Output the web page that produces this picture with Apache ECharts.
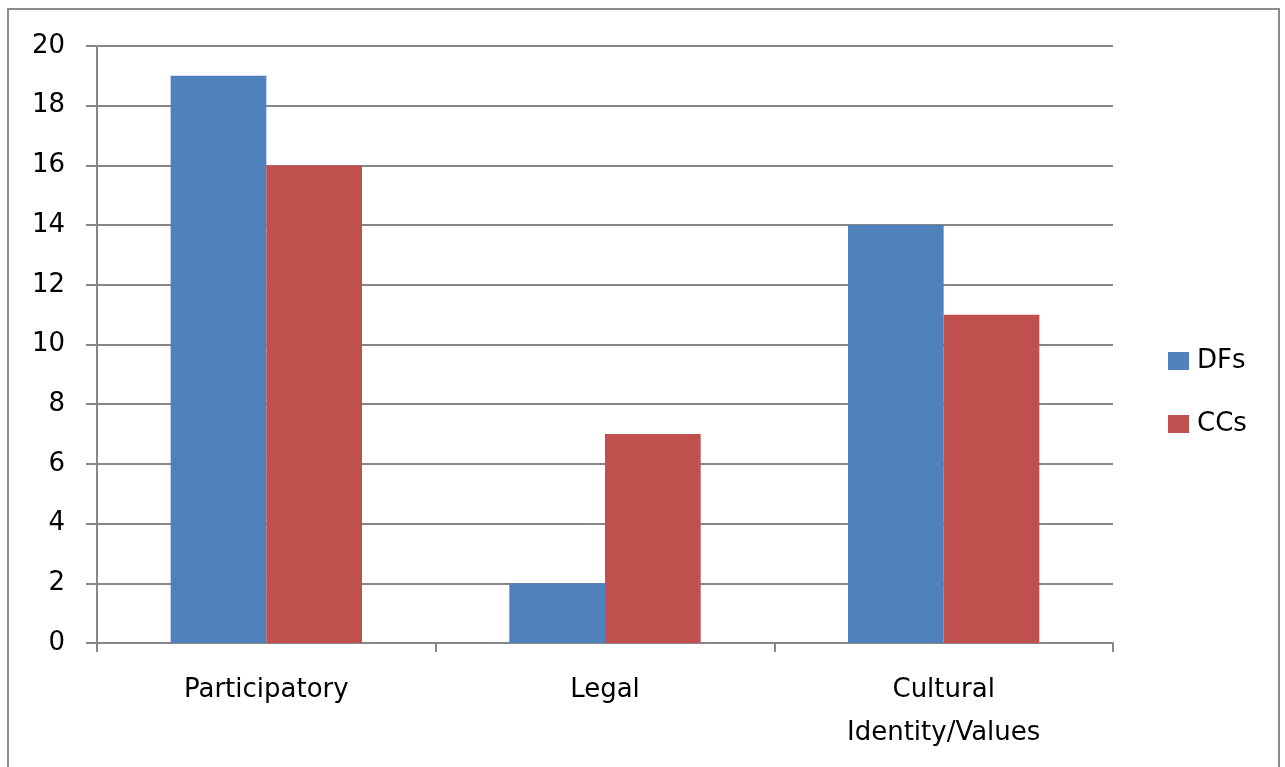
<!DOCTYPE html>
<html>
<head>
<meta charset="utf-8">
<script src="https://cdn.jsdelivr.net/npm/echarts@6/dist/echarts.min.js"></script>
<style>
  html, body { margin: 0; padding: 0; background: #fff; }
  #chart { width: 1285px; height: 767px; }
</style>
</head>
<body>
<div id="chart"></div>
<script>
const categories = ["Participatory", "Legal", "Cultural\nIdentity/Values"];
const dfsValues = [19, 2, 14];
const ccsValues = [16, 7, 11];
const seriesNames = ["DFs", "CCs"];

const AXIS_GRAY = "#868686";
const FONT = '"DejaVu Sans", Verdana, sans-serif';
const FONT_SIZE = 26;

const chart = echarts.init(document.getElementById("chart"), null, { renderer: "canvas" });

chart.setOption({
  animation: false,
  textStyle: { fontFamily: FONT, color: "#000" },
  color: ["#4F81BD", "#C0504D"],
  graphic: [
    {
      type: "rect",
      shape: { x: 8, y: 9, width: 1271, height: 775 },
      style: { fill: "none", stroke: "#8c8c8c", lineWidth: 2 },
      silent: true,
    },
  ],
  grid: { left: 97, right: 172, top: 46, bottom: 124, containLabel: false },
  legend: {
    orient: "vertical",
    left: 1163,
    top: 343,
    itemWidth: 21,
    itemHeight: 18,
    itemGap: 37,
    icon: "rect",
    textStyle: { fontFamily: FONT, fontSize: FONT_SIZE, lineHeight: 26, color: "#000", padding: [0, 0, 0, 3] },
    data: seriesNames,
  },
  xAxis: {
    type: "category",
    data: categories,
    axisLine: { lineStyle: { color: AXIS_GRAY, width: 2 } },
    axisTick: { show: true, length: 9, lineStyle: { color: AXIS_GRAY, width: 2 } },
    axisLabel: {
      fontFamily: FONT,
      fontSize: FONT_SIZE,
      color: "#000",
      margin: 26,
      lineHeight: 43,
      interval: 0,
    },
  },
  yAxis: {
    type: "value",
    min: 0,
    max: 20,
    interval: 2,
    axisLine: { show: true, lineStyle: { color: AXIS_GRAY, width: 2 } },
    axisTick: { show: true, length: 11, lineStyle: { color: AXIS_GRAY, width: 2 } },
    splitLine: { lineStyle: { color: AXIS_GRAY, width: 2 } },
    axisLabel: { fontFamily: FONT, fontSize: FONT_SIZE, color: "#000", margin: 32 },
  },
  series: [
    {
      name: seriesNames[0],
      type: "bar",
      data: dfsValues,
      barGap: "0%",
      barCategoryGap: "43.5%",
    },
    {
      name: seriesNames[1],
      type: "bar",
      data: ccsValues,
      barGap: "0%",
      barCategoryGap: "43.5%",
    },
  ],
});
</script>
</body>
</html>
